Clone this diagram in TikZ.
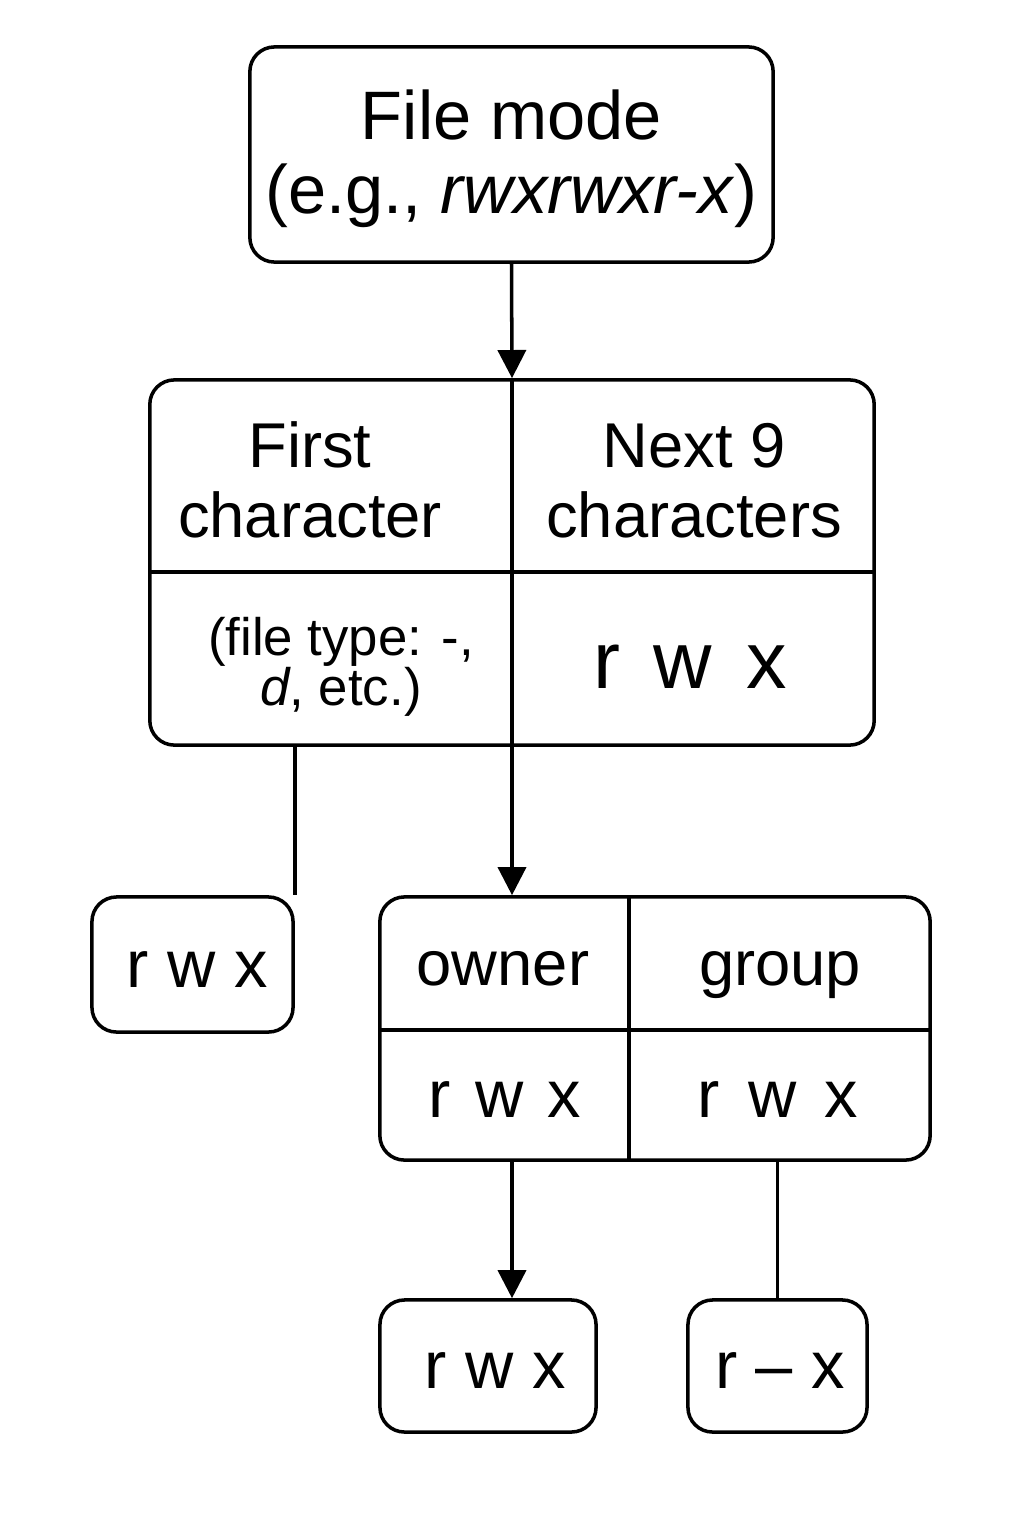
\documentclass[tikz,border=0pt]{standalone}
\usepackage{fontspec}
\setmainfont{Liberation Sans}
\usetikzlibrary{arrows.meta,positioning}

\begin{document}
\begin{tikzpicture}[x=0.01cm,y=-0.01cm]
    \tikzset{box/.style = {shape=rectangle,draw,line width=1pt,rounded corners=7pt,inner sep=0pt}}
    \tikzset{lbl/.style = {anchor=base,align=center,inner sep=0pt}}
    \tikzset{edge/.style = {line width=1pt}}
    \tikzset{arr/.style = {edge,-{Triangle[length=8pt,width=8pt]}}}
    \tikzset{big/.style = {font=\fontsize{19.5}{20.8}\selectfont}}
    \tikzset{head/.style = {font=\fontsize{18}{19.9}\selectfont}}
    \tikzset{note/.style = {font=\fontsize{15}{14.2}\selectfont}}
    \tikzset{bits/.style = {font=\fontsize{19}{20}\selectfont}}
    \useasboundingbox (0,0) rectangle (1024,1536);
    % boxes
    \node[box,minimum width=5.23cm,minimum height=2.15cm] (mode) at (511.5,154.5) {};
    \node[box,minimum width=7.24cm,minimum height=3.65cm] (split) at (512,562.5) {};
    \node[box,minimum width=2.01cm,minimum height=1.35cm] (typebox) at (192.5,964.5) {};
    \node[box,minimum width=5.50cm,minimum height=2.63cm] (perm) at (655,1028.5) {};
    \node[box,minimum width=2.16cm,minimum height=1.32cm] (usrbox) at (488,1366) {};
    \node[box,minimum width=1.79cm,minimum height=1.32cm] (grpbox) at (777.5,1366) {};
    \coordinate (splitrule) at (512,572);
    \coordinate (permrule) at (629,1030);
    % texts (base = last line)
    \node[lbl,big] (modetxt) at (511.5,213) {File mode\\ (e.g., \textit{rwxrwxr-x})};
    \node[lbl,head] (first) at (310,537) {First\\ character};
    \node[lbl,head] (next) at (694,537) {Next 9\\ characters};
    \node[lbl,note] (ftype) at (341,705) {(file type: -,\\ \textit{d}, etc.)};
    \node[lbl,font=\fontsize{23}{24}\selectfont] (nine) at (690,688) {r\hspace{0.42em}w\hspace{0.42em}x};
    \node[lbl,bits] (typebits) at (197,987) {r w x};
    \node[lbl,head] (owner) at (503,985) {owner};
    \node[lbl,head] (group) at (780,985) {group};
    \node[lbl,bits] (obits) at (505,1117) {r\hspace{0.36em}w\hspace{0.36em}x};
    \node[lbl,bits] (gbits) at (778,1117) {r\hspace{0.42em}w\hspace{0.42em}x};
    \node[lbl,bits] (usrbits) at (495,1388) {r w x};
    \node[lbl,bits] (grpbits) at (780,1388) {r -- x};
    % dividers
    \draw[edge] (split.north) -- (split.south);
    \draw[edge] (split.west |- splitrule) -- (split.east |- splitrule);
    \draw[edge] (permrule |- perm.north) -- (permrule |- perm.south);
    \draw[edge] (perm.west |- permrule) -- (perm.east |- permrule);
    % connectors
    \draw[arr] (mode.south) -- (split.north);
    \draw[arr] (split.south) -- (split.south |- perm.north);
    \draw[edge] (typebox.north east |- split.south) -- (typebox.north east);
    \draw[arr] (split.south |- perm.south) -- (split.south |- usrbox.north);
    \draw[edge] (grpbox.north |- perm.south) -- (grpbox.north);
\end{tikzpicture}
\end{document}
